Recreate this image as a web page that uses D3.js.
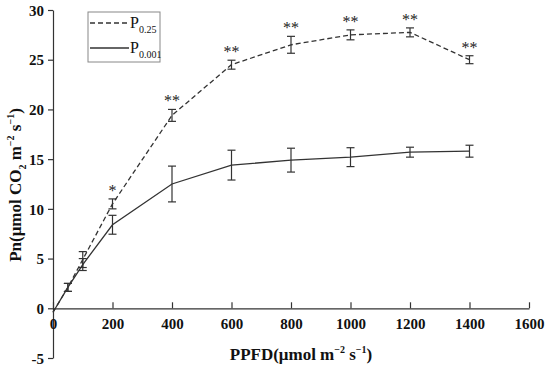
<!DOCTYPE html>
<meta charset="utf-8">
<script src="https://d3js.org/d3.v7.min.js"></script>
<style>
    body { margin: 0; background: white; }
    svg, svg text { font-family: "Liberation Serif", "Times New Roman", serif; }
</style>
<div id="chart"></div>
<script>
    // PPFD levels and the two series (mean, error)
    var ppfd = [0, 50, 100, 200, 400, 600, 800, 1000, 1200, 1400];
    var p025 = [-0.4, 2.1, 4.9, 10.5, 19.4, 24.5, 26.5, 27.5, 27.75, 25.0];
    var p025Err = [0, 0.4, 0.8, 0.5, 0.6, 0.45, 0.85, 0.5, 0.45, 0.4];
    var p0001 = [-0.4, 2.1, 4.4, 8.4, 12.5, 14.4, 14.9, 15.2, 15.7, 15.8];
    var p0001Err = [0, 0.4, 0.6, 0.95, 1.8, 1.5, 1.2, 0.95, 0.5, 0.6];
    var signif = ["", "", "", "*", "**", "**", "**", "**", "**", "**"];
    var xTicks = [0, 200, 400, 600, 800, 1000, 1200, 1400, 1600];
    var yTicks = [-5, 0, 5, 10, 15, 20, 25, 30];

    var W = 550, H = 370;
    var svg = d3.select("#chart").append("svg").attr("width", W).attr("height", H);

    var x = d3.scaleLinear().domain([0, 1600]).range([53, 529]),
        y = d3.scaleLinear().domain([-5, 30]).range([358, 10]);
    var fmt = function(d) { return String(d); };

    // y axis
    var yAxis = svg.append("g").attr("transform", "translate(53,0)")
        .call(d3.axisLeft(y).tickValues(yTicks).tickFormat(fmt).tickSize(5).tickPadding(4).tickSizeOuter(0));
    yAxis.attr("font-family", null);
    yAxis.selectAll("text").style("font-size", "15px").style("font-weight", "bold")
        .attr("fill", "#111").attr("dy", "0.35em");

    // x axis at y = 0, ticks pointing up
    var xAxis = svg.append("g").attr("transform", "translate(0," + y(0) + ")")
        .call(d3.axisBottom(x).tickValues(xTicks).tickFormat(fmt).tickSize(-6).tickSizeOuter(0).tickPadding(10));
    xAxis.attr("font-family", null);
    xAxis.selectAll("text").style("font-size", "15px").style("font-weight", "bold")
        .attr("fill", "#111").attr("dy", "0.71em");
    svg.selectAll(".domain, .tick line").attr("stroke", "#333").attr("stroke-width", 1.2);

    function drawSeries(vals, errs, dash) {
        var pts = ppfd.map(function(p, i) { return [p, vals[i], errs[i]]; });
        var line = d3.line().x(function(d) { return x(d[0]); }).y(function(d) { return y(d[1]); });
        svg.append("path").datum(pts).attr("d", line).attr("fill", "none")
            .attr("stroke", "#333").attr("stroke-width", 1.3)
            .attr("stroke-dasharray", dash);
        var eb = svg.append("g").selectAll("g").data(pts.filter(function(d) { return d[2] > 0; }))
            .enter().append("g").attr("stroke", "#333").attr("stroke-width", 1.2);
        eb.append("line").attr("x1", function(d) { return x(d[0]); }).attr("x2", function(d) { return x(d[0]); })
            .attr("y1", function(d) { return y(d[1] + d[2]); }).attr("y2", function(d) { return y(d[1] - d[2]); });
        [1, -1].forEach(function(s) {
            eb.append("line").attr("x1", function(d) { return x(d[0]) - 4; }).attr("x2", function(d) { return x(d[0]) + 4; })
                .attr("y1", function(d) { return y(d[1] + s * d[2]); }).attr("y2", function(d) { return y(d[1] + s * d[2]); });
        });
    }
    drawSeries(p025, p025Err, "5,3");
    drawSeries(p0001, p0001Err, null);

    // significance stars above P0.25
    svg.append("g").selectAll("text").data(ppfd).enter().append("text")
        .attr("x", function(d) { return x(d); })
        .attr("y", function(d, i) { return y(p025[i] + p025Err[i]) - 3; })
        .attr("text-anchor", "middle").style("font-size", "16px").attr("fill", "#222")
        .text(function(d, i) { return signif[i]; });

    // legend
    var lg = svg.append("g");
    lg.append("rect").attr("x", 88).attr("y", 12).attr("width", 72).attr("height", 50)
        .attr("fill", "white").attr("stroke", "#888").attr("stroke-width", 1);
    var items = [["0.25", "5,3"], ["0.001", null]];
    items.forEach(function(it, i) {
        var ly = 23 + i * 25;
        lg.append("line").attr("x1", 90).attr("x2", 129).attr("y1", ly).attr("y2", ly)
            .attr("stroke", "#333").attr("stroke-width", 1.3).attr("stroke-dasharray", it[1]);
        var t = lg.append("text").attr("x", 130).attr("y", ly + 5).style("font-size", "16px").attr("fill", "#111");
        t.append("tspan").text("P");
        t.append("tspan").attr("dy", 5).style("font-size", "10px").text(it[0]);
    });

    // axis titles
    var xt = svg.append("text").attr("x", 301).attr("y", 360).attr("text-anchor", "middle")
        .style("font-size", "17px").style("font-weight", "bold").attr("fill", "#111");
    xt.append("tspan").text("PPFD(μmol m");
    xt.append("tspan").attr("dy", -7).style("font-size", "10px").text("−2");
    xt.append("tspan").attr("dy", 7).text(" s");
    xt.append("tspan").attr("dy", -7).style("font-size", "10px").text("−1");
    xt.append("tspan").attr("dy", 7).text(")");

    var yt = svg.append("text").attr("transform", "translate(21,185) rotate(-90)").attr("text-anchor", "middle")
        .style("font-size", "17px").style("font-weight", "bold").attr("fill", "#111");
    yt.append("tspan").text("Pn(μmol CO");
    yt.append("tspan").attr("dy", 5).style("font-size", "10px").text("2");
    yt.append("tspan").attr("dy", -5).text(" m");
    yt.append("tspan").attr("dy", -7).style("font-size", "10px").text("−2");
    yt.append("tspan").attr("dy", 7).text(" s");
    yt.append("tspan").attr("dy", -7).style("font-size", "10px").text("−1");
    yt.append("tspan").attr("dy", 7).text(")");
</script>
